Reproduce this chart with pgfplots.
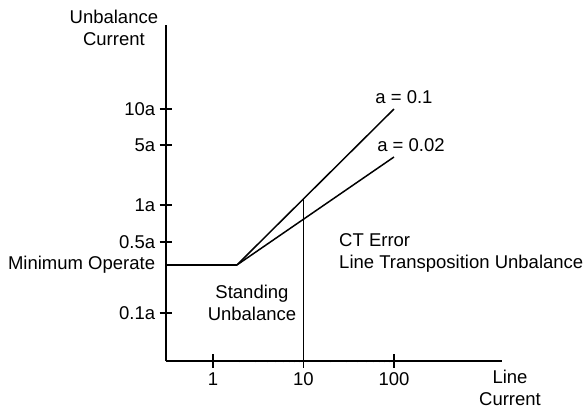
\documentclass[border=0pt]{standalone}
\usepackage{fontspec}
\setmainfont{Liberation Sans}
\usepackage{pgfplots}
\pgfplotsset{compat=1.18}
\begin{document}
\fontsize{18.5bp}{22bp}\selectfont
\begin{tikzpicture}
\begin{axis}[
  scale only axis,
  width=336bp, height=336bp,
  xmode=log,
  xmin=0.303, xmax=1560,
  ymin=0, ymax=336,
  axis lines=left,
  axis line style={-, line width=1.5pt},
  every tick/.style={black, line width=1.5pt},
  tick align=center,
  major tick length=13bp,
  xtick={1,10,100},
  xticklabels={1,10,100},
  ytick={48,119,156,216,252},
  yticklabels={0.1a,0.5a,1a,5a,10a},
  minor tick num=0,
  log ticks with fixed point,
  /pgf/number format/assume math mode=true,
  ticklabel style={font=\fontsize{18.5bp}{22bp}\selectfont},
  yticklabel style={xshift=2bp},
  xticklabel style={yshift=1bp},
  clip=false,
]
\addplot[black, line width=1.5pt] coordinates {(0.303,96) (1.84,96)};
\addplot[black, line width=1.5pt] coordinates {(1.84,96) (100,252)};
\addplot[black, line width=1.5pt] coordinates {(1.84,96) (100,204)};
\addplot[black, line width=1.5pt] coordinates {(10,0) (10,162)};
\coordinate (O) at (rel axis cs:0,0);
\node[align=center] at (axis cs:0.0805,333.5) {Unbalance\\Current};
\node[anchor=east] at (axis cs:0.27,96) {Minimum Operate};
\node at (axis cs:129,264) {a = 0.1};
\node at (axis cs:154,216) {a = 0.02};
\node[anchor=west, align=left, inner sep=0pt] at (axis cs:24.7,108) {CT Error\\Line Transposition Unbalance};
\node[align=center] at (axis cs:2.70,58) {Standing\\Unbalance};
\node[align=center] at (axis cs:1914,-27) {Line\\Current};
\end{axis}
\pgfresetboundingbox
\path[use as bounding box] ([shift={(-166bp,361bp)}]O) rectangle ([shift={(420bp,-47bp)}]O);
\end{tikzpicture}
\end{document}
